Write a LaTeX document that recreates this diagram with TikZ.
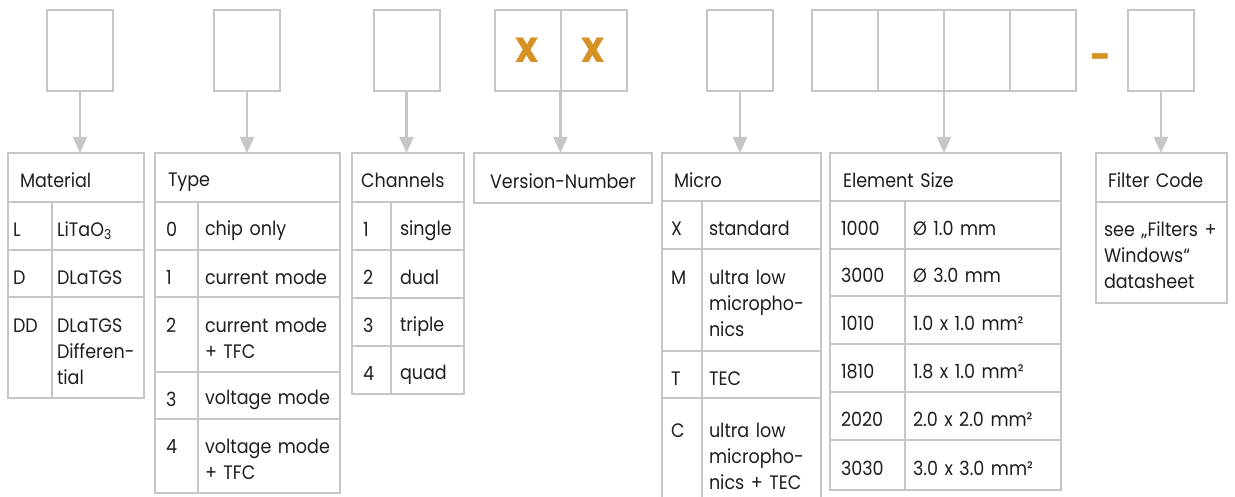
\documentclass[tikz,border=0pt]{standalone}
\usepackage{fontspec}
\setmainfont{Poppins}[FakeStretch=0.9]
\usepackage{tikz}
\usetikzlibrary{arrows.meta,positioning}
\definecolor{lgray}{RGB}{198,198,198}
\definecolor{accent}{RGB}{214,146,36}
\definecolor{ink}{RGB}{30,30,30}
\newcommand{\cellfont}{\fontsize{19.5}{26}\selectfont\lineskiplimit=-100pt}
\newcommand{\cstrut}{\rule[-2.5pt]{0pt}{26pt}}
\tikzset{
	slot/.style={draw=lgray, line width=2pt, minimum width=66pt, minimum height=81pt,
		inner sep=0pt, outer sep=0pt},
	xchar/.style={text=accent, font=\fontsize{44}{44}\selectfont\bfseries},
	dashchar/.style={text=accent, font=\fontsize{40}{40}\selectfont\bfseries, inner sep=0pt},
	rh/.style={minimum height=#1},
	cell/.style={draw=lgray, line width=1.8pt, inner ysep=0pt, outer sep=0pt,
		align=left, text=ink,
		execute at begin node=\cstrut, execute at end node=\cstrut},
	head/.style={cell, anchor=north west, inner xsep=12pt},
	key/.style={cell},
	val/.style={cell},
	conn/.style={draw=lgray, line width=2.2pt, -{Triangle[width=14pt,length=16pt]}}
}

\begin{document}
\begin{tikzpicture}[x=1pt,y=-1pt,font=\cellfont]
  \clip (0,0) rectangle (1235,497);
  % code slots
  \node[slot] (sMat) at (80,50.5) {};
  \node[slot] (sType) at (247,50.5) {};
  \node[slot] (sChan) at (406.5,50.5) {};
  \node[slot, xchar] (sVerA) at (527.5,50.5) {x};
  \node[slot, xchar, right=0 of sVerA] (sVerB) {x};
  \node[slot] (sMic) at (740,50.5) {};
  \node[slot] (sSizeA) at (845,50.5) {};
  \node[slot, right=0 of sSizeA] (sSizeB) {};
  \node[slot, right=0 of sSizeB] (sSizeC) {};
  \node[slot, right=0 of sSizeC] (sSizeD) {};
  \node[dashchar, anchor=base] (sDash) at (1101,71) {-};
  \node[slot] (sFil) at (1161,50.5) {};

  % Material
  \node[head, text width=112pt, rh=49] (hMat) at (8,153) {Material};
  \begin{scope}[key/.append style={inner xsep=5pt, text width=34pt},
                val/.append style={inner xsep=5pt, text width=82pt}]
    \node[key, rh=48, below=0 of hMat.south west, anchor=north west] (kMat1) {L};
    \node[val, rh=48, right=0 of kMat1] (vMat1) {LiTaO\textsubscript{3}};
    \node[key, rh=47, below=0 of kMat1] (kMat2) {D};
    \node[val, rh=47, right=0 of kMat2] (vMat2) {DLaTGS};
    \node[key, rh=101, below=0 of kMat2] (kMat3) {DD\\~\\~};
    \node[val, rh=101, right=0 of kMat3] (vMat3) {DLaTGS\\Differen-\\tial};
  \end{scope}

  % Type
  \node[head, inner xsep=13pt, text width=159pt, rh=49] (hType) at (155,153) {Type};
  \begin{scope}[key/.append style={inner xsep=11pt, text width=21pt},
                val/.append style={inner xsep=7pt, text width=128pt}]
    \node[key, rh=48, below=0 of hType.south west, anchor=north west] (kType1) {0};
    \node[val, rh=48, right=0 of kType1] (vType1) {chip only};
    \node[key, rh=47, below=0 of kType1] (kType2) {1};
    \node[val, rh=47, right=0 of kType2] (vType2) {current mode};
    \node[key, rh=75, below=0 of kType2] (kType3) {2\\~};
    \node[val, rh=75, right=0 of kType3] (vType3) {current mode\\+ TFC};
    \node[key, rh=47, below=0 of kType3] (kType4) {3};
    \node[val, rh=47, right=0 of kType4] (vType4) {voltage mode};
    \node[key, rh=74, below=0 of kType4] (kType5) {4\\~};
    \node[val, rh=74, right=0 of kType5] (vType5) {voltage mode\\+ TFC};
  \end{scope}

  % Channels
  \node[head, inner xsep=9pt, text width=94pt, rh=49] (hChan) at (352,153) {Channels};
  \begin{scope}[key/.append style={inner xsep=11pt, text width=17pt},
                val/.append style={inner xsep=9pt, text width=55pt}]
    \node[key, rh=48, below=0 of hChan.south west, anchor=north west] (kChan1) {1};
    \node[val, rh=48, right=0 of kChan1] (vChan1) {single};
    \node[key, rh=48, below=0 of kChan1] (kChan2) {2};
    \node[val, rh=48, right=0 of kChan2] (vChan2) {dual};
    \node[key, rh=48, below=0 of kChan2] (kChan3) {3};
    \node[val, rh=48, right=0 of kChan3] (vChan3) {triple};
    \node[key, rh=48, below=0 of kChan3] (kChan4) {4};
    \node[val, rh=48, right=0 of kChan4] (vChan4) {quad};
  \end{scope}

  % Version
  \node[head, inner xsep=0pt, minimum width=178pt, rh=50, align=center] (hVer) at (474,153) {Version-Number};

  % Micro
  \node[head, text width=135pt, rh=48] (hMic) at (662,153) {Micro};
  \begin{scope}[key/.append style={inner xsep=9pt, text width=22pt},
                val/.append style={inner xsep=7pt, text width=105pt}]
    \node[key, rh=48, below=0 of hMic.south west, anchor=north west] (kMic1) {X};
    \node[val, rh=48, right=0 of kMic1] (vMic1) {standard};
    \node[key, rh=102, below=0 of kMic1] (kMic2) {M\\~\\~};
    \node[val, rh=102, right=0 of kMic2] (vMic2) {ultra low\\micropho-\\nics};
    \node[key, rh=47, below=0 of kMic2] (kMic3) {T};
    \node[val, rh=47, right=0 of kMic3] (vMic3) {TEC};
    \node[key, rh=110, below=0 of kMic3] (kMic4) {C\\~\\~};
    \node[val, rh=110, right=0 of kMic4] (vMic4) {ultra low\\micropho-\\nics + TEC};
  \end{scope}

  % Element size
  \node[head, inner xsep=13pt, text width=205pt, rh=48] (hSize) at (830,153) {Element Size};
  \begin{scope}[key/.append style={inner xsep=11pt, text width=53pt},
                val/.append style={inner xsep=8pt, text width=140pt}]
    \node[key, rh=48, below=0 of hSize.south west, anchor=north west] (kSize1) {1000};
    \node[val, rh=48, right=0 of kSize1] (vSize1) {Ø 1.0 mm};
    \node[key, rh=47, below=0 of kSize1] (kSize2) {3000};
    \node[val, rh=47, right=0 of kSize2] (vSize2) {Ø 3.0 mm};
    \node[key, rh=48, below=0 of kSize2] (kSize3) {1010};
    \node[val, rh=48, right=0 of kSize3] (vSize3) {1.0 x 1.0 mm²};
    \node[key, rh=48, below=0 of kSize3] (kSize4) {1810};
    \node[val, rh=48, right=0 of kSize4] (vSize4) {1.8 x 1.0 mm²};
    \node[key, rh=48, below=0 of kSize4] (kSize5) {2020};
    \node[val, rh=48, right=0 of kSize5] (vSize5) {2.0 x 2.0 mm²};
    \node[key, rh=50, below=0 of kSize5] (kSize6) {3030};
    \node[val, rh=50, right=0 of kSize6] (vSize6) {3.0 x 3.0 mm²};
  \end{scope}

  % Filter code
  \node[head, text width=107pt, rh=49] (hFil) at (1096,153) {Filter Code};
  \node[cell, inner xsep=8pt, text width=115pt, rh=101, below=0 of hFil] (bFil) {see~„Filters~+\\Windows“\\datasheet};

  \draw[conn] (sMat) -- (sMat |- hMat.north);
  \draw[conn] (sType) -- (sType |- hType.north);
  \draw[conn] (sChan) -- (sChan |- hChan.north);
  \draw[conn] (sVerA.south east) -- (sVerA.south east |- hVer.north);
  \draw[conn] (sMic) -- (sMic |- hMic.north);
  \draw[conn] (sSizeB.south east) -- (sSizeB.south east |- hSize.north);
  \draw[conn] (sFil) -- (sFil |- hFil.north);
\end{tikzpicture}
\end{document}
